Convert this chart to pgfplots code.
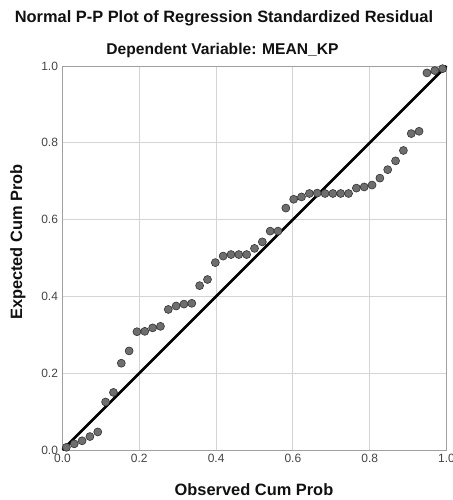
\documentclass[border=0pt]{standalone}
\usepackage{fontspec}
\setmainfont{Liberation Sans}
\usepackage{pgfplots}
\pgfplotsset{compat=1.18}
\definecolor{ink}{HTML}{111111}
\definecolor{tick}{HTML}{444444}
\definecolor{gridc}{HTML}{D4D4D4}
\definecolor{frame}{HTML}{A0A0A0}
\definecolor{dotfill}{HTML}{6E6E6E}
\definecolor{dotedge}{HTML}{333333}

\pgfplotstableread{
x y
0.0102 0.007
0.0306 0.016
0.0510 0.024
0.0714 0.035
0.0918 0.047
0.1122 0.125
0.1327 0.150
0.1531 0.226
0.1735 0.258
0.1939 0.308
0.2143 0.309
0.2347 0.318
0.2551 0.322
0.2755 0.366
0.2959 0.375
0.3163 0.380
0.3367 0.382
0.3571 0.428
0.3776 0.444
0.3980 0.488
0.4184 0.505
0.4388 0.509
0.4592 0.509
0.4796 0.509
0.5000 0.525
0.5204 0.542
0.5408 0.570
0.5612 0.570
0.5816 0.630
0.6020 0.653
0.6224 0.659
0.6429 0.668
0.6633 0.669
0.6837 0.668
0.7041 0.668
0.7245 0.668
0.7449 0.668
0.7653 0.682
0.7857 0.685
0.8061 0.690
0.8265 0.708
0.8469 0.730
0.8673 0.753
0.8878 0.780
0.9082 0.824
0.9286 0.830
0.9490 0.982
0.9694 0.988
0.9898 0.993
}\residuals

\begin{document}
\begin{tikzpicture}
\path[use as bounding box] (0pt,0pt) rectangle (452pt,500pt);
\begin{axis}[
  at={(62.5pt,50pt)}, anchor=south west,
  scale only axis,
  width=384pt, height=384pt,
  xmin=0, xmax=1, ymin=0, ymax=1,
  xtick={0,0.2,...,1.0}, ytick={0,0.2,...,1.0},
  xticklabel style={/pgf/number format/.cd,fixed,fixed zerofill,precision=1},
  yticklabel style={/pgf/number format/.cd,fixed,fixed zerofill,precision=1},
  /pgf/number format/assume math mode=true,
  tick label style={font=\fontsize{12}{14}\selectfont, color=tick},
  major tick length=0pt,
  xticklabel shift=1pt, yticklabel shift=1pt,
  grid=major,
  grid style={gridc, line width=0.9pt},
  axis line style={frame, line width=0.9pt},
  clip=false,
]
\addplot[only marks, mark=*, mark size=4pt,
  mark options={fill=dotfill, draw=dotedge, line width=0.6pt}]
  table[x=x, y=y] {\residuals};
\addplot[black, line width=2.8pt] coordinates {(0,0) (1,1)};
\end{axis}
\node[font=\bfseries\fontsize{16.4}{19}\selectfont, color=ink] at (224pt,482pt) {Normal P-P Plot of Regression Standardized Residual};
\node[font=\bfseries\fontsize{15.6}{19}\selectfont, color=ink] at (222.5pt,450pt) {Dependent Variable: MEAN\_KP};
\node[font=\bfseries\fontsize{16.4}{19}\selectfont, color=ink] at (254pt,10pt) {Observed Cum Prob};
\node[font=\bfseries\fontsize{16.4}{19}\selectfont, color=ink, rotate=90] at (18pt,258pt) {Expected Cum Prob};
\end{tikzpicture}
\end{document}
